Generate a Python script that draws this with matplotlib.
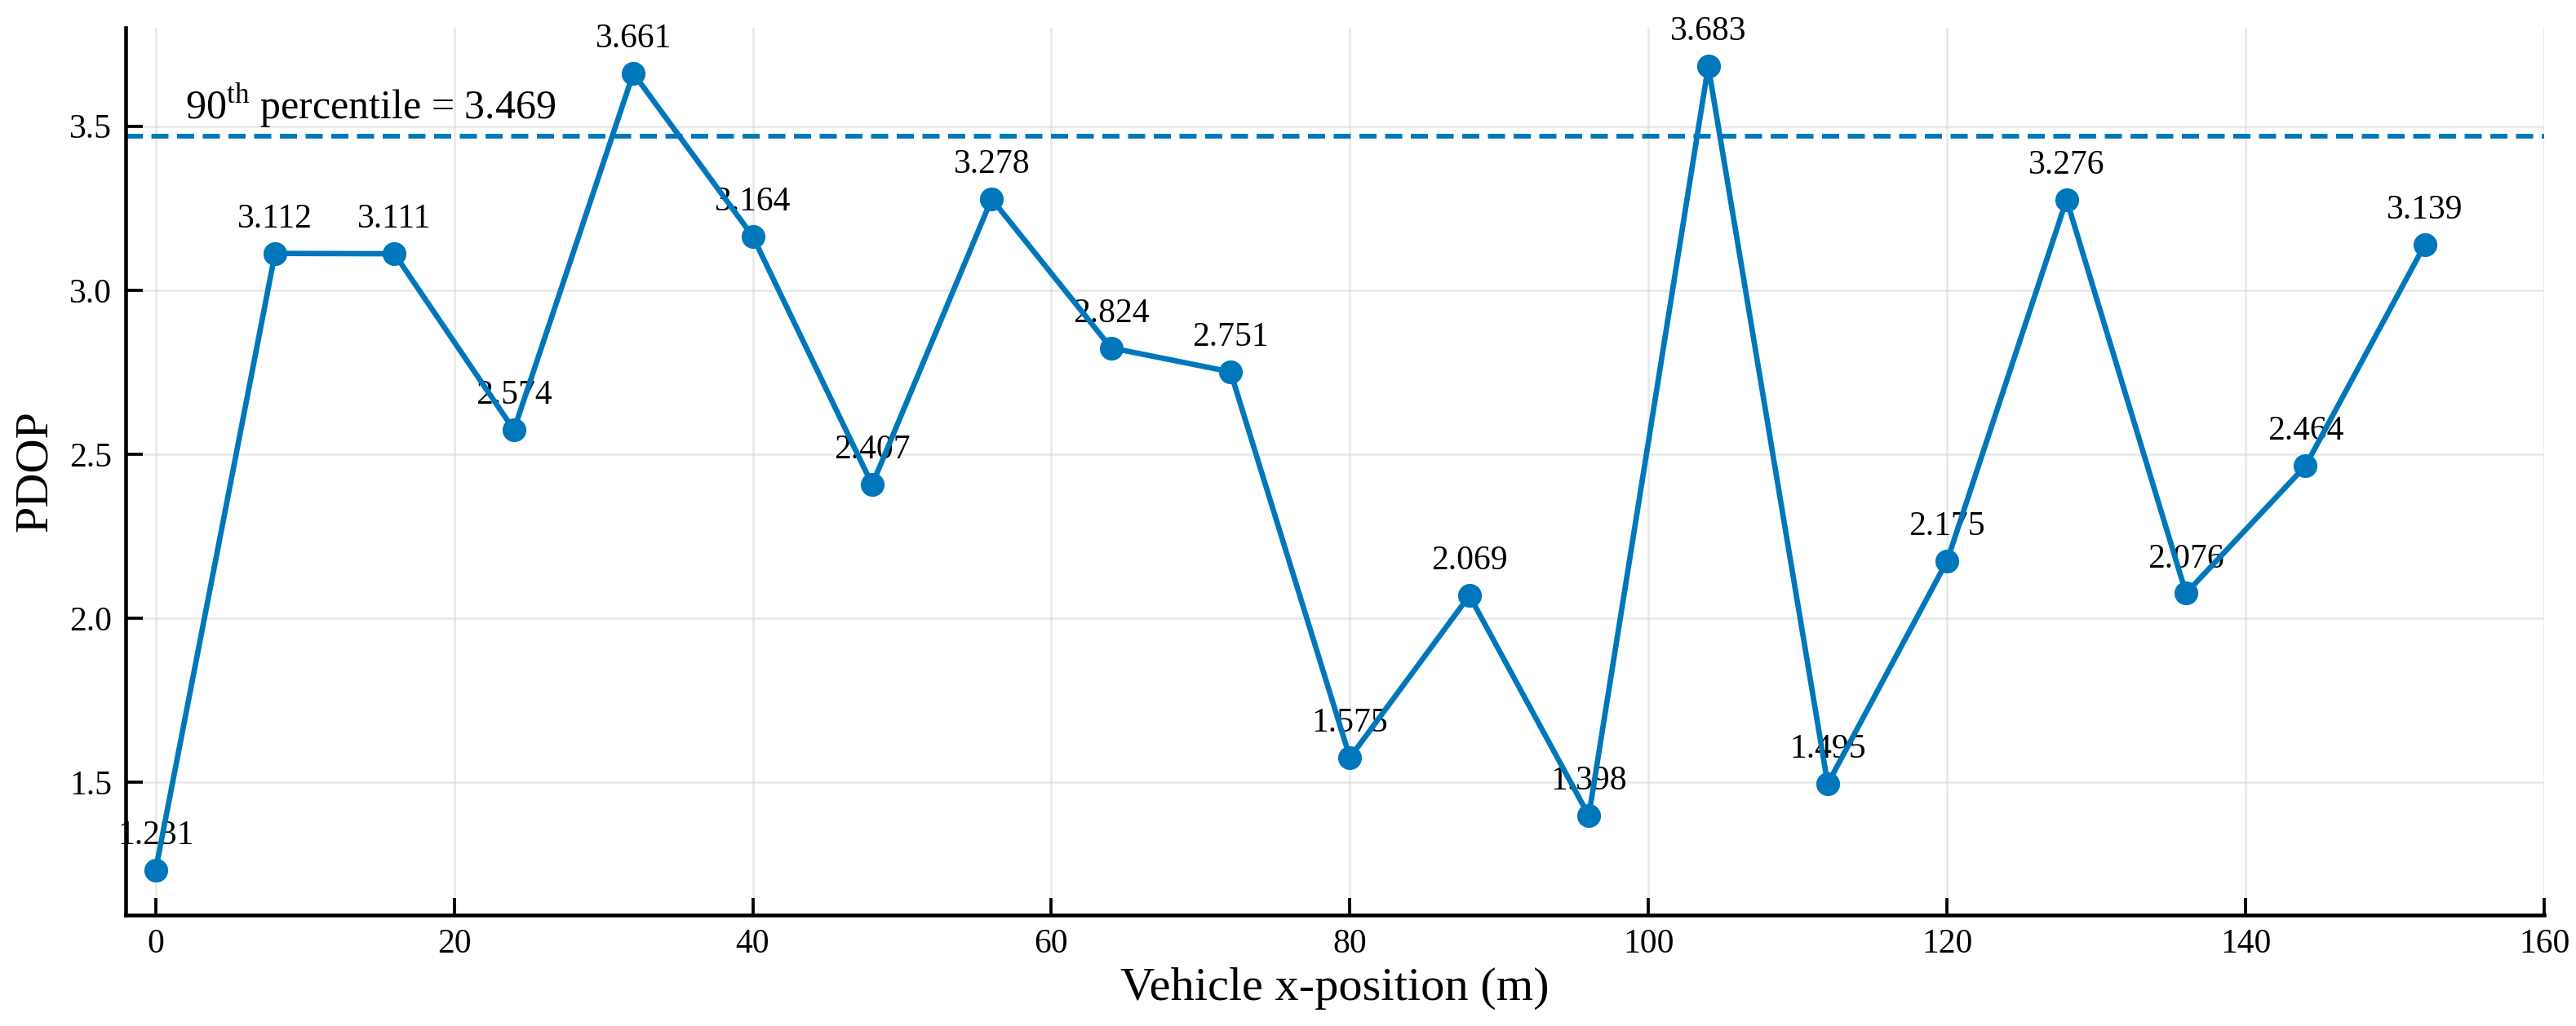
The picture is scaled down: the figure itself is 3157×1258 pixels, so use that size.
import matplotlib
matplotlib.use("Agg")
import matplotlib.pyplot as plt

# Data
x_pos = [0, 8, 16, 24, 32, 40, 48, 56, 64, 72, 80, 88, 96, 104, 112, 120, 128, 136, 144, 152]
pdop = [1.231, 3.112, 3.111, 2.574, 3.661, 3.164, 2.407, 3.278, 2.824, 2.751,
        1.575, 2.069, 1.398, 3.683, 1.495, 2.175, 3.276, 2.076, 2.464, 3.139]
p90 = 3.469
x_ticks = [0, 20, 40, 60, 80, 100, 120, 140, 160]
y_ticks = [1.5, 2.0, 2.5, 3.0, 3.5]

COLOR = "#0077BB"

plt.rcParams['font.family'] = ['Liberation Serif', 'DejaVu Serif']
plt.rcParams['mathtext.fontset'] = 'custom'
plt.rcParams['mathtext.rm'] = 'Liberation Serif'


def main():
    fig = plt.figure(figsize=(3157 / 300, 1258 / 300), dpi=300)
    ax = fig.add_axes([0.0488, 0.1081, 0.9389, 0.8649])

    # data line
    ax.plot(x_pos, pdop, color=COLOR, lw=1.6, marker='o', markersize=6, zorder=3)

    # 90th percentile reference line
    ax.axhline(p90, color=COLOR, lw=1.4, ls=(0, (3.6, 1.8)), zorder=2)
    ax.text(2, p90 + 0.02, r'90$^{\mathrm{th}}$ percentile = %.3f' % p90,
            fontsize=12, ha='left', va='bottom')

    # value labels above each point
    for xv, yv in zip(x_pos, pdop):
        ax.annotate('%.3f' % yv, (xv, yv), xytext=(0, 5.5),
                    textcoords='offset points', ha='center', va='bottom',
                    fontsize=10, zorder=2, annotation_clip=False)

    ax.set_xlim(-2, 160)
    ax.set_ylim(1.095, 3.80)
    ax.set_xticks(x_ticks)
    ax.set_yticks(y_ticks)
    ax.set_yticklabels(['%.1f' % t for t in y_ticks])

    ax.set_xlabel('Vehicle x-position (m)', fontsize=14, labelpad=2)
    ax.set_ylabel('PDOP', fontsize=14, labelpad=4)

    for side in ['top', 'right']:
        ax.spines[side].set_visible(False)
    for side in ['left', 'bottom']:
        ax.spines[side].set_linewidth(1.1)

    ax.tick_params(direction='in', length=5, width=0.9, labelsize=10, pad=4)
    ax.grid(True, color='#d9d9d9', lw=0.6, alpha=0.6)
    ax.set_axisbelow(True)

    fig.savefig('out.png', dpi=300)


if __name__ == "__main__":
    main()
